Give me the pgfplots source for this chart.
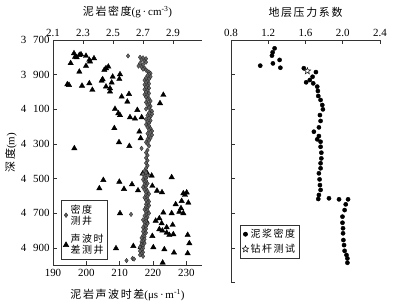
\documentclass[border=0pt]{standalone}
\usepackage{fontspec}
\setmainfont{Liberation Serif}
\newfontfamily\cjk[LetterSpace=15]{Noto Sans CJK SC}
\usepackage{pgfplots}
\pgfplotsset{compat=1.18}
\pgfdeclareplotmark{fstar}{%
  \pgfpathmoveto{\pgfpointpolar{90}{\pgfplotmarksize}}%
  \pgfpathlineto{\pgfpointpolar{126}{0.42\pgfplotmarksize}}%
  \pgfpathlineto{\pgfpointpolar{162}{\pgfplotmarksize}}%
  \pgfpathlineto{\pgfpointpolar{198}{0.42\pgfplotmarksize}}%
  \pgfpathlineto{\pgfpointpolar{234}{\pgfplotmarksize}}%
  \pgfpathlineto{\pgfpointpolar{270}{0.42\pgfplotmarksize}}%
  \pgfpathlineto{\pgfpointpolar{306}{\pgfplotmarksize}}%
  \pgfpathlineto{\pgfpointpolar{342}{0.42\pgfplotmarksize}}%
  \pgfpathlineto{\pgfpointpolar{18}{\pgfplotmarksize}}%
  \pgfpathlineto{\pgfpointpolar{54}{0.42\pgfplotmarksize}}%
  \pgfpathclose\pgfusepathqfillstroke}

\pgfplotstableread{
x y
196.3 3777
196.6 3798
197.9 3787
198.4 3783
197.1 3800
199.9 3792
200.9 3815
201.1 3825
202.3 3806
195.3 3834
199.9 3850
197.9 3883
194.3 3956
194.8 3960
198.7 3964
200.9 3950
201.8 3988
205.4 3873
205.9 3863
206.6 3854
207.9 3912
210.1 3898
209.9 3925
204.6 3935
204.9 3927
207.6 3946
205.9 3969
207.1 3979
207.1 3998
210.6 4027
212.8 4012
212.3 4056
223.1 4017
222.1 4065
208.6 4098
209.6 4123
210.1 4134
213.1 4146
214.6 4154
215.3 4104
216.6 4146
208.4 4209
215.9 4229
216.3 4267
209.8 4290
212.9 4312
196.4 4325
205.1 4508
203.9 4556
209.9 4518
211.3 4560
213.7 4533
215.5 4568
216.9 4471
218.2 4467
219.6 4483
219.8 4542
221.2 4570
222.7 4579
225.6 4492
229.1 4585
229.6 4594
230.1 4580
228.6 4629
230.6 4639
226.8 4648
228.4 4671
227.9 4691
229.1 4700
225.6 4700
223.1 4696
221.9 4729
220.8 4743
222.6 4758
210.1 4700
218.1 4748
224.1 4781
221.9 4792
222.8 4800
224.1 4812
224.9 4825
226.1 4821
225.9 4767
230.4 4825
230.9 4873
219.8 4831
217.1 4864
216.3 4896
214.1 4889
208.9 4902
220.1 4896
223.4 4908
226.3 4927
230.4 4931
222.9 4985
}\sonic

\pgfplotstableread{
x y
2.60 3792
2.68 3800
2.70 3803
2.72 3808
2.69 3815
2.71 3822
2.72 3828
2.68 3835
2.70 3842
2.67 3850
2.69 3856
2.71 3862
2.70 3868
2.72 3874
2.73 3880
2.74 3886
2.75 3892
2.74 3898
2.73 3905
2.75 3912
2.72 3918
2.74 3925
2.71 3932
2.73 3938
2.72 3945
2.74 3952
2.71 3958
2.73 3965
2.72 3972
2.74 3978
2.71 3985
2.73 3992
2.72 4000
2.74 4008
2.71 4015
2.73 4022
2.72 4030
2.74 4038
2.73 4045
2.75 4052
2.72 4060
2.74 4068
2.73 4075
2.75 4082
2.74 4090
2.72 4098
2.75 4105
2.76 4112
2.74 4120
2.76 4128
2.73 4135
2.75 4142
2.74 4150
2.72 4158
2.75 4165
2.73 4172
2.74 4180
2.72 4188
2.74 4195
2.73 4203
2.75 4210
2.74 4218
2.76 4225
2.75 4232
2.73 4240
2.76 4248
2.74 4256
2.75 4265
2.73 4272
2.74 4280
2.72 4290
2.73 4300
2.74 4310
2.69 4325
2.73 4335
2.72 4350
2.73 4365
2.72 4380
2.73 4395
2.72 4410
2.73 4425
2.72 4440
2.71 4455
2.72 4465
2.70 4475
2.73 4482
2.71 4490
2.72 4498
2.70 4505
2.72 4512
2.71 4520
2.73 4528
2.71 4535
2.72 4542
2.70 4550
2.72 4558
2.71 4565
2.73 4572
2.72 4580
2.74 4588
2.72 4595
2.73 4602
2.71 4610
2.73 4618
2.72 4625
2.74 4632
2.73 4640
2.72 4648
2.74 4655
2.72 4662
2.73 4670
2.71 4678
2.73 4685
2.72 4692
2.74 4700
2.62 4706
2.72 4708
2.71 4715
2.73 4722
2.72 4730
2.70 4738
2.72 4745
2.71 4752
2.73 4760
2.71 4768
2.72 4775
2.70 4782
2.72 4790
2.71 4798
2.70 4805
2.72 4812
2.71 4820
2.70 4828
2.71 4835
2.69 4842
2.71 4850
2.70 4858
2.69 4865
2.71 4872
2.69 4880
2.70 4888
2.68 4895
2.70 4902
2.69 4910
2.68 4918
2.70 4925
2.69 4932
2.68 4940
2.70 4948
2.63 4960
2.64 4964
2.59 4973
}\density

\pgfplotstableread{
x y
1.268 3748
1.247 3771
1.240 3790
1.322 3815
1.250 3835
1.330 3860
1.114 3848
1.582 3863
1.712 3885
1.676 3912
1.646 3931
1.607 3944
1.683 3950
1.726 3969
1.733 3994
1.737 4023
1.762 4046
1.780 4075
1.787 4100
1.755 4133
1.762 4167
1.744 4204
1.690 4229
1.744 4254
1.726 4273
1.762 4287
1.762 4316
1.770 4350
1.770 4383
1.762 4411
1.762 4440
1.744 4469
1.751 4504
1.755 4537
1.762 4565
1.744 4594
1.737 4617
1.852 4613
1.960 4619
2.057 4619
2.032 4648
2.020 4681
1.997 4719
1.997 4754
2.003 4786
2.003 4815
2.007 4854
2.014 4883
2.020 4916
2.040 4940
2.050 4960
2.050 4985
}\mud

\begin{document}
\begin{tikzpicture}
\useasboundingbox (0bp,0bp) rectangle (403bp,-306bp);
\pgfplotsset{
  common/.style={scale only axis, tick align=inside, major tick length=4bp,
    axis line style={-, black!80, line width=0.6pt},
    tick style={black!80, line width=0.6pt},
    ticklabel style={font=\fontsize{11}{12}\selectfont, text=black},
    label style={font=\fontsize{11}{12}\selectfont},
    y dir=reverse, clip=false},
}
% ---- left panel, sonic (bottom axis) ----
\begin{axis}[common, at={(53bp,-40bp)}, anchor=north west, width=149bp, height=225.3bp,
  xmin=190, xmax=234.7, ymin=3700, ymax=5000,
  axis x line*=bottom, axis y line*=left,
  xtick={190,200,210,220,230}, xticklabels={190,200,210,220,230},
  ytick={3700,3900,4100,4300,4500,4700,4900},
  yticklabels={3\hspace{0.6em}700,3\hspace{0.6em}900,4\hspace{0.6em}100,4\hspace{0.6em}300,4\hspace{0.6em}500,4\hspace{0.6em}700,4\hspace{0.6em}900},
  xlabel={{\cjk 泥岩声波时差}(μs\,·\,m\textsuperscript{-1})},
  x label style={at={(axis description cs:0.5,0)}, anchor=center, yshift=-30bp},
  ylabel={{\cjk 深度}(m)},
  y label style={at={(axis description cs:0,0.5)}, anchor=center, xshift=0bp, yshift=42bp},
  legend style={at={(0.054,0.288)}, anchor=north west, draw=black!80, line width=0.6pt,
    font=\fontsize{10}{11}\selectfont\cjk, cells={align=left}, inner sep=2pt, row sep=5pt},
  legend cell align=left]
\addlegendimage{only marks, mark=diamond*, mark size=2.4bp, black!65, mark options={draw=black!85, line width=0.3pt}}
\addlegendentry{密度\\测井}
\addplot[only marks, mark=triangle*, mark size=3.1bp, black] table[x=x,y=y] {\sonic};
\addlegendentry{声波时\\差测井}
\end{axis}
% ---- left panel, density (top axis) ----
\begin{axis}[common, at={(53bp,-40bp)}, anchor=north west, width=149bp, height=225.3bp,
  xmin=2.1, xmax=3.093, ymin=3700, ymax=5000,
  axis x line*=top, axis y line=none, ytick=\empty,
  xtick={2.1,2.3,2.5,2.7,2.9}, xticklabels={2.1,2.3,2.5,2.7,2.9},
  xlabel={{\cjk 泥岩密度}(g\,·\,cm\textsuperscript{-3})},
  x label style={at={(axis description cs:0.5,1)}, anchor=center, yshift=28bp}]
\addplot[only marks, mark=diamond*, mark size=2.3bp, black!60, mark options={draw=black!85, line width=0.3pt}] table[x=x,y=y] {\density};
\end{axis}
% ---- right panel ----
\begin{axis}[common, at={(231bp,-40bp)}, anchor=north west, width=149bp, height=242.7bp,
  xmin=0.8, xmax=2.4, ymin=3700, ymax=5100,
  axis x line*=top, axis y line*=left,
  xtick={0.8,1.2,1.6,2.0,2.4}, xticklabels={0.8,1.2,1.6,2.0,2.4},
  ytick={3700,3900,4100,4300,4500,4700,4900,5100}, yticklabels={},
  xlabel={{\cjk 地层压力系数}},
  x label style={at={(axis description cs:0.5,1)}, anchor=center, yshift=28bp},
  legend style={at={(0.06,0.238)}, anchor=north west, draw=black!80, line width=0.6pt,
    font=\fontsize{10}{11}\selectfont\cjk, inner sep=2pt, row sep=1pt},
  legend cell align=left]
\addplot[only marks, mark=*, mark size=2.1bp, black] table[x=x,y=y] {\mud};
\addlegendentry{泥浆密度}
\addplot[only marks, mark=fstar, mark size=3.4bp, mark options={draw=black, fill=white, line width=0.5pt}] coordinates {(1.62,3879)};
\addlegendentry{钻杆测试}
\end{axis}
\end{tikzpicture}
\end{document}
